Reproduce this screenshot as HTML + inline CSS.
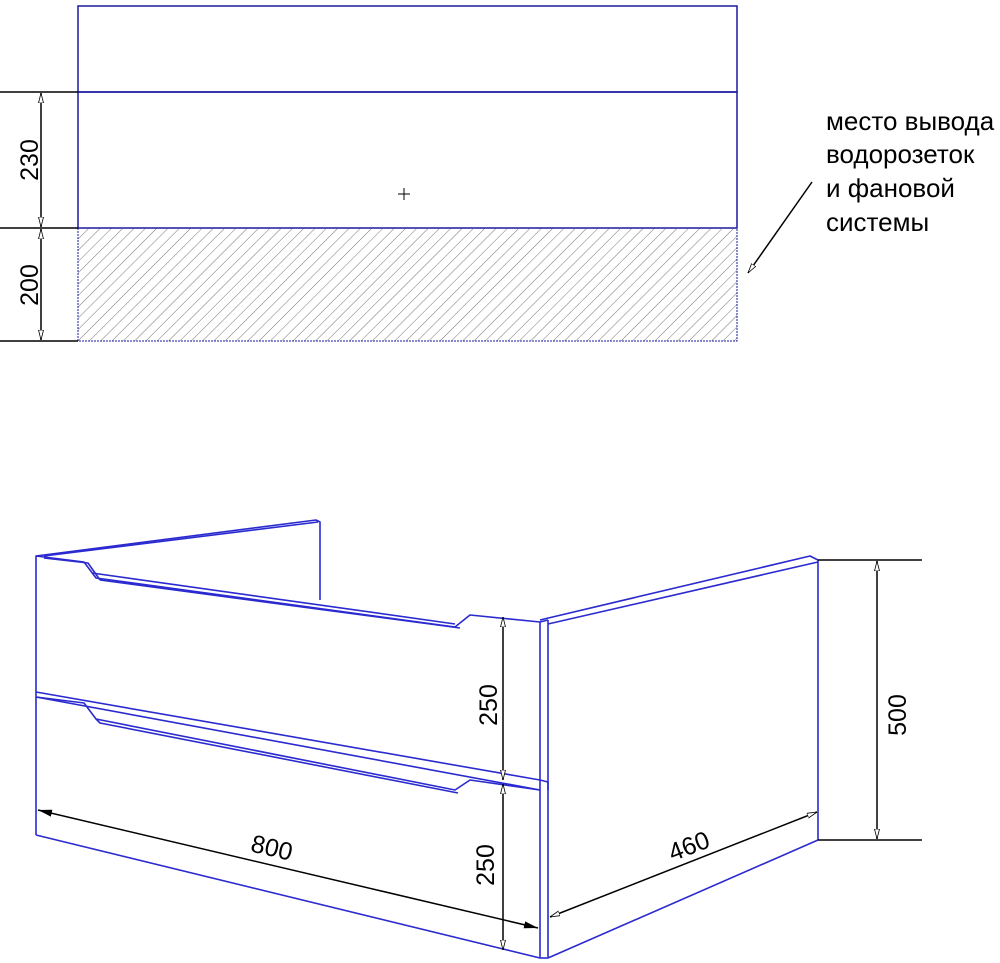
<!DOCTYPE html>
<html><head><meta charset="utf-8"><style>
html,body{margin:0;padding:0;background:#fff;}
svg{display:block;}
text{font-family:"Liberation Sans","DejaVu Sans",sans-serif;fill:#000;}
</style></head><body>
<svg width="1000" height="963" viewBox="0 0 1000 963" xmlns="http://www.w3.org/2000/svg">
<defs>
<marker id="a" viewBox="0 0 10 6" refX="10" refY="3" markerWidth="10" markerHeight="6" orient="auto-start-reverse" markerUnits="userSpaceOnUse">
<path d="M0,0.5 L10,3 L0,5.5 Z" fill="#fff" stroke="#000" stroke-width="0.8"/></marker>
<marker id="f" viewBox="0 0 14 8" refX="14" refY="4" markerWidth="14" markerHeight="8" orient="auto-start-reverse" markerUnits="userSpaceOnUse">
<path d="M0,0.5 L14,4 L0,7.5 Z" fill="#000"/></marker>
<pattern id="h" width="8" height="8" patternUnits="userSpaceOnUse" patternTransform="rotate(45)">
<line x1="0" y1="0" x2="0" y2="8" stroke="#666" stroke-width="0.9"/></pattern>
</defs>

<!-- top view -->
<g fill="none" stroke="#1a1aa0" stroke-width="1.5">
<rect x="78" y="6" width="659" height="86"/>
<rect x="78" y="92" width="659" height="136"/>
</g>
<rect x="78" y="228" width="659" height="113" fill="url(#h)" stroke="#1a1aa0" stroke-width="1" stroke-dasharray="2,1"/>
<g stroke="#000" stroke-width="1.5">
<line x1="0" y1="92" x2="78" y2="92"/>
<line x1="0" y1="228" x2="78" y2="228"/>
<line x1="0" y1="341" x2="78" y2="341"/>
<line x1="41" y1="93" x2="41" y2="227" marker-start="url(#a)" marker-end="url(#a)"/>
<line x1="41" y1="229" x2="41" y2="340" marker-start="url(#a)" marker-end="url(#a)"/>
<line x1="398" y1="194" x2="410" y2="194" stroke-width="1"/>
<line x1="404" y1="188" x2="404" y2="200" stroke-width="1"/>
<line x1="812" y1="182" x2="748" y2="273" marker-end="url(#a)"/>
</g>
<text font-size="25" transform="translate(38,160) rotate(-90)" text-anchor="middle">230</text>
<text font-size="25" transform="translate(38,285) rotate(-90)" text-anchor="middle">200</text>
<g font-size="26">
<text x="826" y="130">место вывода</text>
<text x="826" y="163">водорозеток</text>
<text x="826" y="197">и фановой</text>
<text x="826" y="231">системы</text>
</g>

<!-- 3D view -->
<g fill="none" stroke="#2a2ad0" stroke-width="1.6" stroke-linejoin="round">
<path d="M36,556 L316,520 L320,522 L320,600"/>
<path d="M44,556 L318,522"/>
<path d="M36,835 L36,556 L84,562 L96,578 L455,627 L470,615 L540,622"/>
<path d="M44,558 L88,563 L100,580"/>
<path d="M100,580 L460,628"/>
<path d="M92,573 L455,624"/>
<path d="M36,692 L540,780"/>
<path d="M36,697 L540,790"/>
<path d="M36,697 L84,703 L96,719 L455,790 L470,780 L540,790"/>
<path d="M96,719 L100,723 L458,793"/>
<path d="M36,835 L540,958"/>
<path d="M540,622 L540,958"/>
<path d="M548,620 L548,958"/>
<path d="M540,622 L548,620"/>
<path d="M540,780 L548,782 L548,790"/>
<path d="M540,620 L810,556 L818,560"/>
<path d="M548,624 L818,562"/>
<path d="M818,560 L818,840"/>
<path d="M548,958 L818,840"/>
<path d="M540,958 L548,958"/>
</g>
<g stroke="#000" stroke-width="1.5">
<line x1="818" y1="560" x2="922" y2="560"/>
<line x1="818" y1="840" x2="922" y2="840"/>
<line x1="877" y1="561" x2="877" y2="839" marker-start="url(#a)" marker-end="url(#a)"/>
<line x1="503" y1="617" x2="503" y2="780" marker-start="url(#a)" marker-end="url(#a)"/>
<line x1="503" y1="784" x2="503" y2="950" marker-start="url(#a)" marker-end="url(#a)"/>
<line x1="550" y1="917" x2="817" y2="812" marker-start="url(#a)" marker-end="url(#a)"/>
<line x1="38" y1="810" x2="538" y2="928" marker-start="url(#f)" marker-end="url(#f)"/>
</g>
<text font-size="25" transform="translate(906,715) rotate(-90)" text-anchor="middle">500</text>
<text font-size="25" transform="translate(497,705) rotate(-90)" text-anchor="middle">250</text>
<text font-size="25" transform="translate(494,865) rotate(-90)" text-anchor="middle">250</text>
<text font-size="25" transform="translate(692,854) rotate(-21)" text-anchor="middle">460</text>
<text font-size="25" transform="translate(270,856) rotate(13)" text-anchor="middle">800</text>
</svg>
</body></html>
